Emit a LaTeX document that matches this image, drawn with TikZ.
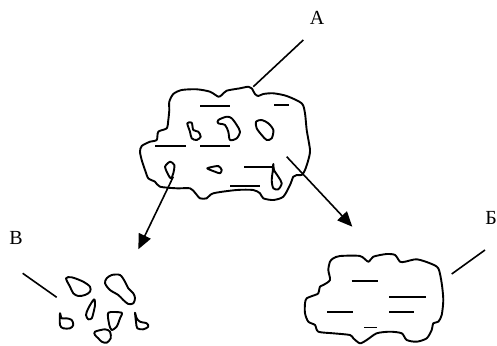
\documentclass[tikz,border=0pt]{standalone}
\usepackage{fontspec}
\setmainfont{Liberation Serif}
\usetikzlibrary{arrows.meta}
\begin{document}
\begin{tikzpicture}[x=1pt,y=-1pt,
  outline/.style={line width=1.9pt,line join=round,line cap=round},
  blob/.style={outline},
  stroke/.style={line width=1.8pt},
  pointer/.style={line width=1.6pt},
  flow/.style={line width=1.6pt,-{Triangle[length=15pt,width=13pt]}},
  letter/.style={font=\fontsize{20}{20}\selectfont,inner sep=0pt}]
\useasboundingbox (0,0) rectangle (497,345);

% --- piece A: the whole lump ---
\draw[outline] plot[smooth cycle,tension=0.45] coordinates {
 (169.3,101.7) (173.3,94) (181.7,90) (196.7,89.3) (210,91.7) (218.3,96.7)
 (221.7,95) (226.7,90.7) (240,88.3) (248.3,86.7) (251.7,88.3) (255,94)
 (258.3,96) (263.3,94) (273.3,93.3) (286.7,96) (301.7,103.3) (305,113.3)
 (306.7,130) (310,150) (308.3,160) (305,170) (301.7,175) (296.7,175)
 (293.3,176.7) (290,185) (283.3,196.7) (273.3,200) (263.3,198.3) (260,193.3)
 (253.3,190) (236.7,190) (213.3,193.3) (206.7,198.3) (200,198.3) (195,192.7)
 (190,188.3) (176.7,188.3) (160,186.7) (155,181.7) (148.3,178.3) (145,170)
 (141.7,160) (140,151.7) (141.7,146) (150,141.7) (156.7,140) (158.3,131.7)
 (166.7,128.3) (168.3,120) (169.3,110)};
\draw[stroke] (200,105.7) -- (230,105.7);
\draw[stroke] (274,105) -- (289.3,105);
\draw[stroke] (155,146) -- (186,146);
\draw[stroke] (200,146) -- (230,146);
\draw[stroke] (244,166.7) -- (273.3,166.7);
\draw[stroke] (230,186) -- (260,186);
\draw[blob] plot[smooth cycle,tension=0.5] coordinates {
 (187.3,123.3) (191.7,122.7) (193.3,130) (198.3,131.7) (200.7,136.7)
 (196.7,140) (191.7,138.3) (190,131.7)};
\draw[blob] plot[smooth cycle,tension=0.5] coordinates {
 (218.3,120) (226.7,116.7) (231.7,118.3) (236.7,125) (240,131.7)
 (236.7,138.3) (230,140) (228.3,131.7) (225,125) (218.3,123.3)};
\draw[blob] plot[smooth cycle,tension=0.5] coordinates {
 (256,121.7) (261.7,120) (268.3,123.3) (273.3,130) (271.7,138.3)
 (266.7,140) (261.7,135) (256.7,128.3)};
\draw[blob] plot[smooth cycle,tension=0.5] coordinates {
 (166,165) (170,161.7) (174.3,165) (173.3,173.3) (170.7,178.3)
 (166.7,171.7) (165,166.7)};
\draw[blob] plot[smooth cycle,tension=0.4] coordinates {
 (207.3,168.3) (218.3,166) (221.7,170) (220,173.3) (215,171.7)};
\draw[blob] plot[smooth cycle,tension=0.5] coordinates {
 (273.3,164) (274,170) (278.3,176.7) (281.7,183.3) (278.3,189.3)
 (273.3,188.3) (271.7,180) (272.7,171.7)};

% --- piece B (Б): lump with the inclusions only ---
\draw[outline] plot[smooth cycle,tension=0.45] coordinates {
 (333.3,258.3) (340,256) (360,256) (368.3,261.7) (373.3,256.7) (386.7,254)
 (395,255) (400,261.7) (405,261.7) (416.7,259.3) (430,263.3) (438.3,268.3)
 (441.7,283.3) (443.3,300) (441.7,315) (438.3,321.7) (433.3,323.3)
 (431.7,330) (426.7,338.3) (416.7,341.7) (406.7,340) (401.7,333.3)
 (390,331.7) (376.7,333.3) (366.7,340) (360,343.3) (353.3,338.3) (350,335)
 (333.3,333.3) (318.3,331.7) (315,325) (308.3,321.7) (305,313.3) (305,303.3)
 (306.7,298.3) (315,295) (318.3,293.3) (320,286.7) (323.3,285) (330,280)
 (328.3,270) (330,261.7)};
\draw[stroke] (351.7,281) -- (378.3,281);
\draw[stroke] (389.3,296.7) -- (426,296.7);
\draw[stroke] (327.3,311.7) -- (353.3,311.7);
\draw[stroke] (389,311.7) -- (414,311.7);
\draw[stroke] (364,327.5) -- (377.3,327.5);

% --- group B (В): the loose grains ---
\draw[blob] plot[smooth cycle,tension=0.5] coordinates {
 (66,278.3) (71.7,277.3) (83.3,281.7) (90,286.7) (90,291.7) (85,295)
 (78.3,296) (73.3,293.3) (70,286.7)};
\draw[blob] plot[smooth cycle,tension=0.5] coordinates {
 (106.7,278.3) (111.7,275) (120,275) (125,281.7) (128.3,288.3) (133.3,293.3)
 (135,298.3) (133.3,303.3) (128.3,304) (123.3,300) (118.3,295) (110,290)
 (105,283.3)};
\draw[blob] plot[smooth cycle,tension=0.5] coordinates {
 (94,299.3) (95,305) (93.3,313.3) (91.7,318.3) (88.3,319.3) (86,315)
 (88.3,308.3)};
\draw[blob] plot[smooth cycle,tension=0.5] coordinates {
 (60,313.3) (61.7,318.3) (66.7,318.3) (71.7,320) (73.3,325) (70,328.3)
 (63.3,328.3) (60,325)};
\draw[blob] plot[smooth cycle,tension=0.4] coordinates {
 (108.3,312.7) (121.7,312.7) (120,318.3) (116.7,326.7) (111.7,330)
 (109.3,325)};
\draw[blob] plot[smooth cycle,tension=0.5] coordinates {
 (95,331.7) (105,329.3) (110,331.7) (110.7,338.3) (106.7,342.7)
 (101.7,341.7) (98.3,338.3) (95,335)};
\draw[blob] plot[smooth cycle,tension=0.5] coordinates {
 (135,312.7) (136.7,318.3) (140,321.7) (146.7,323.3) (148.3,326.7)
 (143.3,329.3) (137.3,328.3) (136,321.7)};

% --- labels and their leader lines ---
\node[letter] (la) at (317,18) {А};
\node[letter] (lb) at (491,218) {Б};
\node[letter] (lv) at (16,238) {В};
\coordinate (pa1) at (303.3,40);   \coordinate (pa2) at (253.3,86.7);
\coordinate (pb1) at (485,250);    \coordinate (pb2) at (451.7,274);
\coordinate (pv1) at (22.7,273.3); \coordinate (pv2) at (56.7,297.3);
\draw[pointer] (pa1) -- (pa2);
\draw[pointer] (pb1) -- (pb2);
\draw[pointer] (pv1) -- (pv2);

% --- the two ways the lump falls apart ---
\coordinate (fv1) at (173.3,176.7); \coordinate (fv2) at (138.3,249.3);
\coordinate (fb1) at (286.7,156.7); \coordinate (fb2) at (352.3,226.7);
\draw[flow] (fv1) -- (fv2);
\draw[flow] (fb1) -- (fb2);
\end{tikzpicture}
\end{document}
